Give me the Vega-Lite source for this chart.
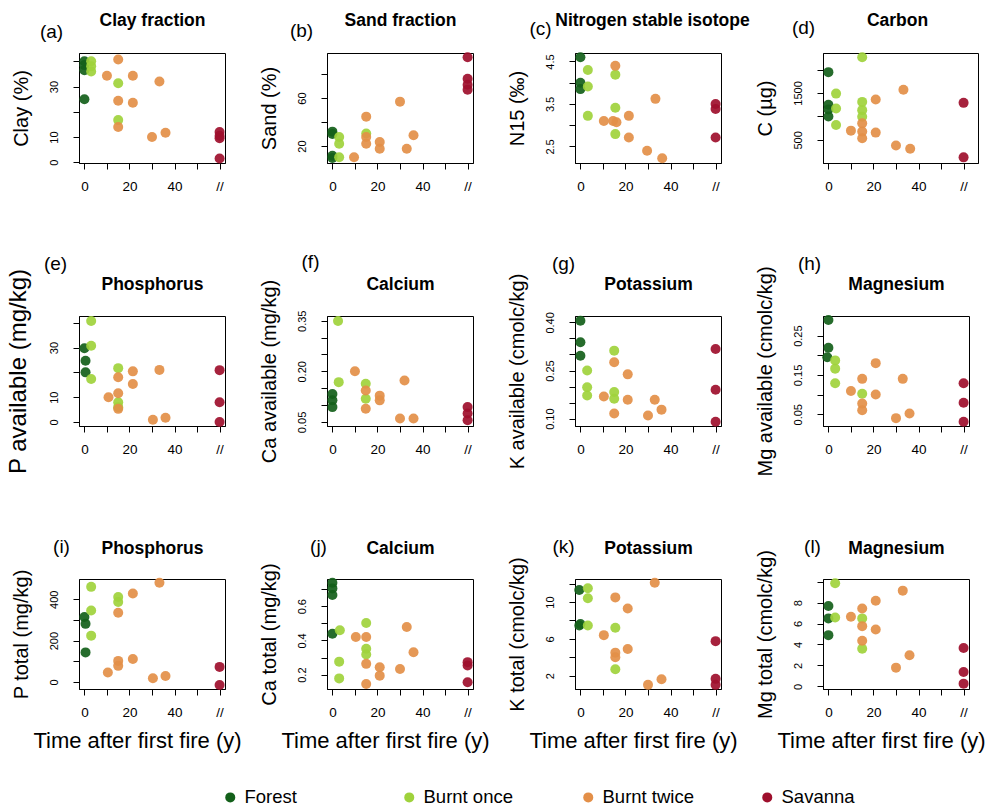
{
"$schema": "https://vega.github.io/schema/vega-lite/v6.json",
"padding": {"left": 5, "top": 10, "right": 5, "bottom": 5},
"background": "white",
"data": {"values": [
{"p":"a","g":"Forest","t":0,"v":40},{"p":"a","g":"Forest","t":0,"v":38.5},{"p":"a","g":"Forest","t":0,"v":36.5},{"p":"a","g":"Forest","t":0,"v":25},
{"p":"a","g":"Burnt once","t":3,"v":40},{"p":"a","g":"Burnt once","t":3,"v":38},{"p":"a","g":"Burnt once","t":3,"v":36},{"p":"a","g":"Burnt once","t":15,"v":31.3},{"p":"a","g":"Burnt once","t":15,"v":16.7},
{"p":"a","g":"Burnt twice","t":15,"v":40.7},{"p":"a","g":"Burnt twice","t":10,"v":34.3},{"p":"a","g":"Burnt twice","t":21.5,"v":34.3},{"p":"a","g":"Burnt twice","t":33.3,"v":32},{"p":"a","g":"Burnt twice","t":15,"v":24.4},{"p":"a","g":"Burnt twice","t":21.5,"v":23.6},{"p":"a","g":"Burnt twice","t":15,"v":14},{"p":"a","g":"Burnt twice","t":30,"v":10},{"p":"a","g":"Burnt twice","t":36,"v":11.7},
{"p":"a","g":"Savanna","t":60,"v":12},{"p":"a","g":"Savanna","t":60,"v":10.5},{"p":"a","g":"Savanna","t":60,"v":9.5},{"p":"a","g":"Savanna","t":60,"v":1.5},

{"p":"b","g":"Forest","t":0,"v":32},{"p":"b","g":"Forest","t":0,"v":30},{"p":"b","g":"Forest","t":0,"v":12},{"p":"b","g":"Forest","t":0,"v":10},
{"p":"b","g":"Burnt once","t":3,"v":27.6},{"p":"b","g":"Burnt once","t":3,"v":22},{"p":"b","g":"Burnt once","t":3,"v":10.7},{"p":"b","g":"Burnt once","t":15,"v":30.4},
{"p":"b","g":"Burnt twice","t":9.6,"v":10.7},{"p":"b","g":"Burnt twice","t":15,"v":44.5},{"p":"b","g":"Burnt twice","t":15,"v":27.6},{"p":"b","g":"Burnt twice","t":15,"v":22},{"p":"b","g":"Burnt twice","t":21,"v":23.4},{"p":"b","g":"Burnt twice","t":21,"v":17.7},{"p":"b","g":"Burnt twice","t":30,"v":57},{"p":"b","g":"Burnt twice","t":33,"v":17.7},{"p":"b","g":"Burnt twice","t":36,"v":29},
{"p":"b","g":"Savanna","t":60,"v":94},{"p":"b","g":"Savanna","t":60,"v":76},{"p":"b","g":"Savanna","t":60,"v":71},{"p":"b","g":"Savanna","t":60,"v":67},

{"p":"c","g":"Forest","t":0,"v":4.6},{"p":"c","g":"Forest","t":0,"v":4.0},{"p":"c","g":"Forest","t":0,"v":3.85},
{"p":"c","g":"Burnt once","t":3.3,"v":4.3},{"p":"c","g":"Burnt once","t":3.3,"v":3.91},{"p":"c","g":"Burnt once","t":3.3,"v":3.22},{"p":"c","g":"Burnt once","t":15.5,"v":4.19},{"p":"c","g":"Burnt once","t":15.5,"v":3.41},{"p":"c","g":"Burnt once","t":15.5,"v":2.79},
{"p":"c","g":"Burnt twice","t":15.5,"v":4.4},{"p":"c","g":"Burnt twice","t":10.4,"v":3.1},{"p":"c","g":"Burnt twice","t":14.5,"v":3.1},{"p":"c","g":"Burnt twice","t":16,"v":3.07},{"p":"c","g":"Burnt twice","t":21.5,"v":3.22},{"p":"c","g":"Burnt twice","t":21.5,"v":2.71},{"p":"c","g":"Burnt twice","t":29.6,"v":2.4},{"p":"c","g":"Burnt twice","t":33.3,"v":3.62},{"p":"c","g":"Burnt twice","t":36.3,"v":2.22},
{"p":"c","g":"Savanna","t":60,"v":3.5},{"p":"c","g":"Savanna","t":60,"v":3.38},{"p":"c","g":"Savanna","t":60,"v":2.71},

{"p":"d","g":"Forest","t":0,"v":1944},{"p":"d","g":"Forest","t":0,"v":1250},{"p":"d","g":"Forest","t":0,"v":1150},{"p":"d","g":"Forest","t":0,"v":1000},
{"p":"d","g":"Burnt once","t":3.4,"v":1486},{"p":"d","g":"Burnt once","t":3.4,"v":1169},{"p":"d","g":"Burnt once","t":3.4,"v":817},{"p":"d","g":"Burnt once","t":15,"v":2260},{"p":"d","g":"Burnt once","t":15,"v":1310},{"p":"d","g":"Burnt once","t":15,"v":1134},{"p":"d","g":"Burnt once","t":15,"v":993},
{"p":"d","g":"Burnt twice","t":10,"v":697},{"p":"d","g":"Burnt twice","t":15,"v":852},{"p":"d","g":"Burnt twice","t":15,"v":676},{"p":"d","g":"Burnt twice","t":15,"v":535},{"p":"d","g":"Burnt twice","t":21,"v":1359},{"p":"d","g":"Burnt twice","t":21,"v":655},{"p":"d","g":"Burnt twice","t":30,"v":380},{"p":"d","g":"Burnt twice","t":33.3,"v":1570},{"p":"d","g":"Burnt twice","t":36.3,"v":310},
{"p":"d","g":"Savanna","t":60,"v":1289},{"p":"d","g":"Savanna","t":60,"v":127},

{"p":"e","g":"Forest","t":0,"v":29.7},{"p":"e","g":"Forest","t":0.5,"v":24.7},{"p":"e","g":"Forest","t":0.5,"v":20},
{"p":"e","g":"Burnt once","t":3,"v":40.7},{"p":"e","g":"Burnt once","t":3,"v":30.7},{"p":"e","g":"Burnt once","t":3,"v":17.3},{"p":"e","g":"Burnt once","t":15,"v":21.7},{"p":"e","g":"Burnt once","t":15,"v":8},{"p":"e","g":"Burnt once","t":15,"v":6},
{"p":"e","g":"Burnt twice","t":10.7,"v":10},{"p":"e","g":"Burnt twice","t":15,"v":18},{"p":"e","g":"Burnt twice","t":15,"v":11.6},{"p":"e","g":"Burnt twice","t":15,"v":5.3},{"p":"e","g":"Burnt twice","t":21.5,"v":20.4},{"p":"e","g":"Burnt twice","t":21.5,"v":15.3},{"p":"e","g":"Burnt twice","t":33.3,"v":21},{"p":"e","g":"Burnt twice","t":30.4,"v":0.9},{"p":"e","g":"Burnt twice","t":36,"v":1.7},
{"p":"e","g":"Savanna","t":60,"v":20.9},{"p":"e","g":"Savanna","t":60,"v":8},{"p":"e","g":"Savanna","t":60,"v":0},

{"p":"f","g":"Forest","t":0,"v":0.133},{"p":"f","g":"Forest","t":0,"v":0.114},{"p":"f","g":"Forest","t":0,"v":0.094},
{"p":"f","g":"Burnt once","t":2.5,"v":0.349},{"p":"f","g":"Burnt once","t":2.8,"v":0.168},{"p":"f","g":"Burnt once","t":14.8,"v":0.163},{"p":"f","g":"Burnt once","t":14.8,"v":0.119},
{"p":"f","g":"Burnt twice","t":10,"v":0.2},{"p":"f","g":"Burnt twice","t":14.8,"v":0.143},{"p":"f","g":"Burnt twice","t":14.8,"v":0.089},{"p":"f","g":"Burnt twice","t":21,"v":0.128},{"p":"f","g":"Burnt twice","t":21,"v":0.114},{"p":"f","g":"Burnt twice","t":32,"v":0.173},{"p":"f","g":"Burnt twice","t":30,"v":0.06},{"p":"f","g":"Burnt twice","t":36,"v":0.06},
{"p":"f","g":"Savanna","t":60,"v":0.094},{"p":"f","g":"Savanna","t":60,"v":0.075},{"p":"f","g":"Savanna","t":60,"v":0.055},

{"p":"g","g":"Forest","t":0,"v":0.405},{"p":"g","g":"Forest","t":0,"v":0.338},{"p":"g","g":"Forest","t":0,"v":0.296},
{"p":"g","g":"Burnt once","t":3,"v":0.25},{"p":"g","g":"Burnt once","t":3,"v":0.198},{"p":"g","g":"Burnt once","t":3,"v":0.172},{"p":"g","g":"Burnt once","t":15,"v":0.312},{"p":"g","g":"Burnt once","t":15,"v":0.183},{"p":"g","g":"Burnt once","t":15,"v":0.162},
{"p":"g","g":"Burnt twice","t":10.4,"v":0.169},{"p":"g","g":"Burnt twice","t":15,"v":0.276},{"p":"g","g":"Burnt twice","t":15,"v":0.116},{"p":"g","g":"Burnt twice","t":21,"v":0.238},{"p":"g","g":"Burnt twice","t":21,"v":0.159},{"p":"g","g":"Burnt twice","t":30,"v":0.11},{"p":"g","g":"Burnt twice","t":33,"v":0.159},{"p":"g","g":"Burnt twice","t":36,"v":0.128},
{"p":"g","g":"Savanna","t":60,"v":0.317},{"p":"g","g":"Savanna","t":60,"v":0.19},{"p":"g","g":"Savanna","t":60,"v":0.09},

{"p":"h","g":"Forest","t":0,"v":0.29},{"p":"h","g":"Forest","t":0,"v":0.219},{"p":"h","g":"Forest","t":-0.5,"v":0.195},
{"p":"h","g":"Burnt once","t":3,"v":0.187},{"p":"h","g":"Burnt once","t":3,"v":0.166},{"p":"h","g":"Burnt once","t":3,"v":0.129},{"p":"h","g":"Burnt once","t":15,"v":0.102},
{"p":"h","g":"Burnt twice","t":10,"v":0.109},{"p":"h","g":"Burnt twice","t":15,"v":0.14},{"p":"h","g":"Burnt twice","t":15,"v":0.077},{"p":"h","g":"Burnt twice","t":15,"v":0.06},{"p":"h","g":"Burnt twice","t":21,"v":0.18},{"p":"h","g":"Burnt twice","t":21,"v":0.1},{"p":"h","g":"Burnt twice","t":30,"v":0.04},{"p":"h","g":"Burnt twice","t":33,"v":0.14},{"p":"h","g":"Burnt twice","t":36,"v":0.052},
{"p":"h","g":"Savanna","t":60,"v":0.129},{"p":"h","g":"Savanna","t":60,"v":0.079},{"p":"h","g":"Savanna","t":60,"v":0.031},

{"p":"i","g":"Forest","t":0,"v":314},{"p":"i","g":"Forest","t":0.5,"v":281},{"p":"i","g":"Forest","t":0.5,"v":143},
{"p":"i","g":"Burnt once","t":3,"v":460},{"p":"i","g":"Burnt once","t":3,"v":346},{"p":"i","g":"Burnt once","t":3,"v":224},{"p":"i","g":"Burnt once","t":15,"v":411},{"p":"i","g":"Burnt once","t":15,"v":387},
{"p":"i","g":"Burnt twice","t":15,"v":335},{"p":"i","g":"Burnt twice","t":10.4,"v":46},{"p":"i","g":"Burnt twice","t":15,"v":102},{"p":"i","g":"Burnt twice","t":15,"v":78},{"p":"i","g":"Burnt twice","t":21.5,"v":111},{"p":"i","g":"Burnt twice","t":21.5,"v":428},{"p":"i","g":"Burnt twice","t":33.3,"v":480},{"p":"i","g":"Burnt twice","t":30.4,"v":18},{"p":"i","g":"Burnt twice","t":36,"v":29},
{"p":"i","g":"Savanna","t":60,"v":73},{"p":"i","g":"Savanna","t":60,"v":-15},

{"p":"j","g":"Forest","t":0,"v":0.737},{"p":"j","g":"Forest","t":0,"v":0.704},{"p":"j","g":"Forest","t":0,"v":0.665},{"p":"j","g":"Forest","t":0,"v":0.439},
{"p":"j","g":"Burnt once","t":3.3,"v":0.459},{"p":"j","g":"Burnt once","t":3,"v":0.276},{"p":"j","g":"Burnt once","t":3,"v":0.178},{"p":"j","g":"Burnt once","t":15,"v":0.502},{"p":"j","g":"Burnt once","t":15,"v":0.351},{"p":"j","g":"Burnt once","t":15,"v":0.318},
{"p":"j","g":"Burnt twice","t":10.4,"v":0.42},{"p":"j","g":"Burnt twice","t":15,"v":0.42},{"p":"j","g":"Burnt twice","t":15,"v":0.263},{"p":"j","g":"Burnt twice","t":15,"v":0.145},{"p":"j","g":"Burnt twice","t":21,"v":0.243},{"p":"j","g":"Burnt twice","t":21,"v":0.194},{"p":"j","g":"Burnt twice","t":30,"v":0.233},{"p":"j","g":"Burnt twice","t":33,"v":0.478},{"p":"j","g":"Burnt twice","t":36,"v":0.331},
{"p":"j","g":"Savanna","t":60,"v":0.273},{"p":"j","g":"Savanna","t":60,"v":0.253},{"p":"j","g":"Savanna","t":60,"v":0.155},

{"p":"k","g":"Forest","t":-0.5,"v":11.3},{"p":"k","g":"Forest","t":0,"v":7.6},{"p":"k","g":"Forest","t":-0.5,"v":7.45},
{"p":"k","g":"Burnt once","t":3.3,"v":11.5},{"p":"k","g":"Burnt once","t":3.3,"v":10.4},{"p":"k","g":"Burnt once","t":3.3,"v":7.45},{"p":"k","g":"Burnt once","t":15.5,"v":7.2},{"p":"k","g":"Burnt once","t":15.5,"v":2.7},
{"p":"k","g":"Burnt twice","t":10.4,"v":6.4},{"p":"k","g":"Burnt twice","t":15.5,"v":10.5},{"p":"k","g":"Burnt twice","t":15.5,"v":4.5},{"p":"k","g":"Burnt twice","t":15.5,"v":4.0},{"p":"k","g":"Burnt twice","t":21,"v":9.3},{"p":"k","g":"Burnt twice","t":21,"v":4.9},{"p":"k","g":"Burnt twice","t":30,"v":1.0},{"p":"k","g":"Burnt twice","t":33,"v":12.1},{"p":"k","g":"Burnt twice","t":36,"v":1.6},
{"p":"k","g":"Savanna","t":60,"v":5.75},{"p":"k","g":"Savanna","t":60,"v":1.65},{"p":"k","g":"Savanna","t":60,"v":1.0},

{"p":"l","g":"Forest","t":0,"v":7.67},{"p":"l","g":"Forest","t":0,"v":6.49},{"p":"l","g":"Forest","t":0,"v":4.89},
{"p":"l","g":"Burnt once","t":3,"v":9.84},{"p":"l","g":"Burnt once","t":3,"v":6.58},{"p":"l","g":"Burnt once","t":15,"v":6.49},{"p":"l","g":"Burnt once","t":15,"v":3.6},
{"p":"l","g":"Burnt twice","t":10,"v":6.64},{"p":"l","g":"Burnt twice","t":15,"v":7.44},{"p":"l","g":"Burnt twice","t":15,"v":5.75},{"p":"l","g":"Burnt twice","t":15,"v":4.35},{"p":"l","g":"Burnt twice","t":21,"v":8.18},{"p":"l","g":"Burnt twice","t":21,"v":5.43},{"p":"l","g":"Burnt twice","t":30,"v":1.79},{"p":"l","g":"Burnt twice","t":33,"v":9.14},{"p":"l","g":"Burnt twice","t":36,"v":2.97},
{"p":"l","g":"Savanna","t":60,"v":3.67},{"p":"l","g":"Savanna","t":60,"v":1.37},{"p":"l","g":"Savanna","t":60,"v":0.26}
]},
"columns": 4,
"bounds": "flush",
"spacing": {"row": 153, "column": 102},
"concat": [
{"width":146,"height":110,"transform":[{"filter":"datum.p==='a'"}],"resolve":{"axis":{"x":"independent","y":"independent"}},"layer":[
 {"mark":{"type":"circle","size":100,"opacity":0.92},"encoding":{
  "x":{"field":"t","type":"quantitative","scale":{"domain":[-2.4,62.4],"nice":false,"zero":false},"axis":{"values":[0,10,20,30,40,50,60],"format":"d","labelExpr":"datum.value==60?'//':(datum.value%20==0?datum.label:'')","title":null}},
  "y":{"field":"v","type":"quantitative","scale":{"domain":[-0.3,43.3],"nice":false,"zero":false},"axis":{"title":"Clay (%)","labelBaseline":"bottom","labelAlign":"center","labelAngle":270,"values":[0,10,20,30,40],"format":"d","labelExpr":"indexof([0,10,30],datum.value)>=0?datum.label:''"}},
  "color":{"field":"g","type":"nominal","title":null,"scale":{"domain":["Forest","Burnt once","Burnt twice","Savanna"],"range":["#13601a","#9fd23c","#e38f48","#9e0f2c"]}}}},
 {"mark":{"type":"circle","opacity":0},"encoding":{"y":{"field":"v","type":"quantitative","axis":null},"x":{"field":"t","type":"quantitative","axis":{"orient":"top","title":"(a)","titleX":-28,"titleY":-16,"titleFontSize":19,"titleFontWeight":"normal"}}}},
 {"mark":{"type":"circle","opacity":0},"encoding":{"y":{"field":"v","type":"quantitative","axis":null},"x":{"field":"t","type":"quantitative","axis":{"orient":"top","title":"Clay fraction","titleX":73,"titleY":-28,"titleFontSize":17.5,"titleFontWeight":"bold"}}}}
]},
{"width":146,"height":110,"transform":[{"filter":"datum.p==='b'"}],"resolve":{"axis":{"x":"independent","y":"independent"}},"layer":[
 {"mark":{"type":"circle","size":100,"opacity":0.92},"encoding":{
  "x":{"field":"t","type":"quantitative","scale":{"domain":[-2.4,62.4],"nice":false,"zero":false},"axis":{"values":[0,10,20,30,40,50,60],"format":"d","labelExpr":"datum.value==60?'//':(datum.value%20==0?datum.label:'')","title":null}},
  "y":{"field":"v","type":"quantitative","scale":{"domain":[5.9,97.5],"nice":false,"zero":false},"axis":{"title":"Sand (%)","labelBaseline":"bottom","labelAlign":"center","labelAngle":270,"values":[20,40,60,80],"format":"d","labelExpr":"indexof([20,60],datum.value)>=0?datum.label:''"}},
  "color":{"field":"g","type":"nominal","title":null,"scale":{"domain":["Forest","Burnt once","Burnt twice","Savanna"],"range":["#13601a","#9fd23c","#e38f48","#9e0f2c"]}}}},
 {"mark":{"type":"circle","opacity":0},"encoding":{"y":{"field":"v","type":"quantitative","axis":null},"x":{"field":"t","type":"quantitative","axis":{"orient":"top","title":"(b)","titleX":-26,"titleY":-17,"titleFontSize":19,"titleFontWeight":"normal"}}}},
 {"mark":{"type":"circle","opacity":0},"encoding":{"y":{"field":"v","type":"quantitative","axis":null},"x":{"field":"t","type":"quantitative","axis":{"orient":"top","title":"Sand fraction","titleX":73,"titleY":-28,"titleFontSize":17.5,"titleFontWeight":"bold"}}}}
]},
{"width":146,"height":110,"transform":[{"filter":"datum.p==='c'"}],"resolve":{"axis":{"x":"independent","y":"independent"}},"layer":[
 {"mark":{"type":"circle","size":100,"opacity":0.92},"encoding":{
  "x":{"field":"t","type":"quantitative","scale":{"domain":[-2.4,62.4],"nice":false,"zero":false},"axis":{"values":[0,10,20,30,40,50,60],"format":"d","labelExpr":"datum.value==60?'//':(datum.value%20==0?datum.label:'')","title":null}},
  "y":{"field":"v","type":"quantitative","scale":{"domain":[2.11,4.7],"nice":false,"zero":false},"axis":{"title":"N15 (‰)","labelBaseline":"bottom","labelAlign":"center","labelAngle":270,"values":[2.5,3,3.5,4,4.5],"format":".1f","labelExpr":"indexof([2.5,3.5,4.5],datum.value)>=0?datum.label:''"}},
  "color":{"field":"g","type":"nominal","title":null,"scale":{"domain":["Forest","Burnt once","Burnt twice","Savanna"],"range":["#13601a","#9fd23c","#e38f48","#9e0f2c"]}}}},
 {"mark":{"type":"circle","opacity":0},"encoding":{"y":{"field":"v","type":"quantitative","axis":null},"x":{"field":"t","type":"quantitative","axis":{"orient":"top","title":"(c)","titleX":-35,"titleY":-19,"titleFontSize":19,"titleFontWeight":"normal"}}}},
 {"mark":{"type":"circle","opacity":0},"encoding":{"y":{"field":"v","type":"quantitative","axis":null},"x":{"field":"t","type":"quantitative","axis":{"orient":"top","title":"Nitrogen stable isotope","titleX":77,"titleY":-28,"titleFontSize":17.5,"titleFontWeight":"bold"}}}}
]},
{"width":155,"height":110,"transform":[{"filter":"datum.p==='d'"}],"resolve":{"axis":{"x":"independent","y":"independent"}},"layer":[
 {"mark":{"type":"circle","size":100,"opacity":0.92},"encoding":{
  "x":{"field":"t","type":"quantitative","scale":{"domain":[-2.4,66.4],"nice":false,"zero":false},"axis":{"values":[0,10,20,30,40,50,60],"format":"d","labelExpr":"datum.value==60?'//':(datum.value%20==0?datum.label:'')","title":null}},
  "y":{"field":"v","type":"quantitative","scale":{"domain":[7,2352],"nice":false,"zero":false},"axis":{"title":"C (µg)","labelBaseline":"bottom","labelAlign":"center","labelAngle":270,"values":[500,1000,1500,2000],"format":"d","labelExpr":"indexof([500,1500],datum.value)>=0?datum.label:''"}},
  "color":{"field":"g","type":"nominal","title":null,"scale":{"domain":["Forest","Burnt once","Burnt twice","Savanna"],"range":["#13601a","#9fd23c","#e38f48","#9e0f2c"]}}}},
 {"mark":{"type":"circle","opacity":0},"encoding":{"y":{"field":"v","type":"quantitative","axis":null},"x":{"field":"t","type":"quantitative","axis":{"orient":"top","title":"(d)","titleX":-20,"titleY":-20,"titleFontSize":19,"titleFontWeight":"normal"}}}},
 {"mark":{"type":"circle","opacity":0},"encoding":{"y":{"field":"v","type":"quantitative","axis":null},"x":{"field":"t","type":"quantitative","axis":{"orient":"top","title":"Carbon","titleX":74,"titleY":-28,"titleFontSize":17.5,"titleFontWeight":"bold"}}}}
]},
{"width":146,"height":110,"transform":[{"filter":"datum.p==='e'"}],"resolve":{"axis":{"x":"independent","y":"independent"}},"layer":[
 {"mark":{"type":"circle","size":100,"opacity":0.92},"encoding":{
  "x":{"field":"t","type":"quantitative","scale":{"domain":[-2.4,62.4],"nice":false,"zero":false},"axis":{"values":[0,10,20,30,40,50,60],"format":"d","labelExpr":"datum.value==60?'//':(datum.value%20==0?datum.label:'')","title":null}},
  "y":{"field":"v","type":"quantitative","scale":{"domain":[-1.6,42.7],"nice":false,"zero":false},"axis":{"title":"P available (mg/kg)","titleFontSize":24,"titleX":-61,"labelBaseline":"bottom","labelAlign":"center","labelAngle":270,"values":[0,10,20,30,40],"format":"d","labelExpr":"indexof([0,10,30],datum.value)>=0?datum.label:''"}},
  "color":{"field":"g","type":"nominal","title":null,"scale":{"domain":["Forest","Burnt once","Burnt twice","Savanna"],"range":["#13601a","#9fd23c","#e38f48","#9e0f2c"]}}}},
 {"mark":{"type":"circle","opacity":0},"encoding":{"y":{"field":"v","type":"quantitative","axis":null},"x":{"field":"t","type":"quantitative","axis":{"orient":"top","title":"(e)","titleX":-24,"titleY":-47,"titleFontSize":19,"titleFontWeight":"normal"}}}},
 {"mark":{"type":"circle","opacity":0},"encoding":{"y":{"field":"v","type":"quantitative","axis":null},"x":{"field":"t","type":"quantitative","axis":{"orient":"top","title":"Phosphorus","titleX":73,"titleY":-27,"titleFontSize":17.5,"titleFontWeight":"bold"}}}}
]},
{"width":146,"height":110,"transform":[{"filter":"datum.p==='f'"}],"resolve":{"axis":{"x":"independent","y":"independent"}},"layer":[
 {"mark":{"type":"circle","size":100,"opacity":0.92},"encoding":{
  "x":{"field":"t","type":"quantitative","scale":{"domain":[-2.4,62.4],"nice":false,"zero":false},"axis":{"values":[0,10,20,30,40,50,60],"format":"d","labelExpr":"datum.value==60?'//':(datum.value%20==0?datum.label:'')","title":null}},
  "y":{"field":"v","type":"quantitative","scale":{"domain":[0.038,0.364],"nice":false,"zero":false},"axis":{"title":"Ca available (mg/kg)","labelBaseline":"bottom","labelAlign":"center","labelAngle":270,"values":[0.05,0.1,0.15,0.2,0.25,0.3,0.35],"format":".2f","labelExpr":"indexof([0.05,0.2,0.35],datum.value)>=0?datum.label:''"}},
  "color":{"field":"g","type":"nominal","title":null,"scale":{"domain":["Forest","Burnt once","Burnt twice","Savanna"],"range":["#13601a","#9fd23c","#e38f48","#9e0f2c"]}}}},
 {"mark":{"type":"circle","opacity":0},"encoding":{"y":{"field":"v","type":"quantitative","axis":null},"x":{"field":"t","type":"quantitative","axis":{"orient":"top","title":"(f)","titleX":-17,"titleY":-49,"titleFontSize":19,"titleFontWeight":"normal"}}}},
 {"mark":{"type":"circle","opacity":0},"encoding":{"y":{"field":"v","type":"quantitative","axis":null},"x":{"field":"t","type":"quantitative","axis":{"orient":"top","title":"Calcium","titleX":73,"titleY":-27,"titleFontSize":17.5,"titleFontWeight":"bold"}}}}
]},
{"width":146,"height":110,"transform":[{"filter":"datum.p==='g'"}],"resolve":{"axis":{"x":"independent","y":"independent"}},"layer":[
 {"mark":{"type":"circle","size":100,"opacity":0.92},"encoding":{
  "x":{"field":"t","type":"quantitative","scale":{"domain":[-2.4,62.4],"nice":false,"zero":false},"axis":{"values":[0,10,20,30,40,50,60],"format":"d","labelExpr":"datum.value==60?'//':(datum.value%20==0?datum.label:'')","title":null}},
  "y":{"field":"v","type":"quantitative","scale":{"domain":[0.077,0.42],"nice":false,"zero":false},"axis":{"title":"K available (cmolc/kg)","labelBaseline":"bottom","labelAlign":"center","labelAngle":270,"values":[0.1,0.15,0.2,0.25,0.3,0.35,0.4],"format":".2f","labelExpr":"indexof([0.1,0.25,0.4],datum.value)>=0?datum.label:''"}},
  "color":{"field":"g","type":"nominal","title":null,"scale":{"domain":["Forest","Burnt once","Burnt twice","Savanna"],"range":["#13601a","#9fd23c","#e38f48","#9e0f2c"]}}}},
 {"mark":{"type":"circle","opacity":0},"encoding":{"y":{"field":"v","type":"quantitative","axis":null},"x":{"field":"t","type":"quantitative","axis":{"orient":"top","title":"(g)","titleX":-12,"titleY":-47,"titleFontSize":19,"titleFontWeight":"normal"}}}},
 {"mark":{"type":"circle","opacity":0},"encoding":{"y":{"field":"v","type":"quantitative","axis":null},"x":{"field":"t","type":"quantitative","axis":{"orient":"top","title":"Potassium","titleX":73,"titleY":-27,"titleFontSize":17.5,"titleFontWeight":"bold"}}}}
]},
{"width":146,"height":110,"transform":[{"filter":"datum.p==='h'"}],"resolve":{"axis":{"x":"independent","y":"independent"}},"layer":[
 {"mark":{"type":"circle","size":100,"opacity":0.92},"encoding":{
  "x":{"field":"t","type":"quantitative","scale":{"domain":[-2.4,62.4],"nice":false,"zero":false},"axis":{"values":[0,10,20,30,40,50,60],"format":"d","labelExpr":"datum.value==60?'//':(datum.value%20==0?datum.label:'')","title":null}},
  "y":{"field":"v","type":"quantitative","scale":{"domain":[0.02,0.3],"nice":false,"zero":false},"axis":{"title":"Mg available (cmolc/kg)","labelBaseline":"bottom","labelAlign":"center","labelAngle":270,"values":[0.05,0.1,0.15,0.2,0.25],"format":".2f","labelExpr":"indexof([0.05,0.15,0.25],datum.value)>=0?datum.label:''"}},
  "color":{"field":"g","type":"nominal","title":null,"scale":{"domain":["Forest","Burnt once","Burnt twice","Savanna"],"range":["#13601a","#9fd23c","#e38f48","#9e0f2c"]}}}},
 {"mark":{"type":"circle","opacity":0},"encoding":{"y":{"field":"v","type":"quantitative","axis":null},"x":{"field":"t","type":"quantitative","axis":{"orient":"top","title":"(h)","titleX":-14,"titleY":-47,"titleFontSize":19,"titleFontWeight":"normal"}}}},
 {"mark":{"type":"circle","opacity":0},"encoding":{"y":{"field":"v","type":"quantitative","axis":null},"x":{"field":"t","type":"quantitative","axis":{"orient":"top","title":"Magnesium","titleX":73,"titleY":-27,"titleFontSize":17.5,"titleFontWeight":"bold"}}}}
]},
{"width":146,"height":110,"transform":[{"filter":"datum.p==='i'"}],"resolve":{"axis":{"x":"independent","y":"independent"}},"layer":[
 {"mark":{"type":"circle","size":100,"opacity":0.92},"encoding":{
  "x":{"field":"t","type":"quantitative","scale":{"domain":[-2.4,62.4],"nice":false,"zero":false},"axis":{"values":[0,10,20,30,40,50,60],"format":"d","labelExpr":"datum.value==60?'//':(datum.value%20==0?datum.label:'')","title":"Time after first fire (y)"}},
  "y":{"field":"v","type":"quantitative","scale":{"domain":[-34,498],"nice":false,"zero":false},"axis":{"title":"P total (mg/kg)","labelBaseline":"bottom","labelAlign":"center","labelAngle":270,"values":[0,100,200,300,400],"format":"d","labelExpr":"indexof([0,200,400],datum.value)>=0?datum.label:''"}},
  "color":{"field":"g","type":"nominal","title":null,"scale":{"domain":["Forest","Burnt once","Burnt twice","Savanna"],"range":["#13601a","#9fd23c","#e38f48","#9e0f2c"]}}}},
 {"mark":{"type":"circle","opacity":0},"encoding":{"y":{"field":"v","type":"quantitative","axis":null},"x":{"field":"t","type":"quantitative","axis":{"orient":"top","title":"(i)","titleX":-18,"titleY":-27,"titleFontSize":19,"titleFontWeight":"normal"}}}},
 {"mark":{"type":"circle","opacity":0},"encoding":{"y":{"field":"v","type":"quantitative","axis":null},"x":{"field":"t","type":"quantitative","axis":{"orient":"top","title":"Phosphorus","titleX":73,"titleY":-26,"titleFontSize":17.5,"titleFontWeight":"bold"}}}}
]},
{"width":146,"height":110,"transform":[{"filter":"datum.p==='j'"}],"resolve":{"axis":{"x":"independent","y":"independent"}},"layer":[
 {"mark":{"type":"circle","size":100,"opacity":0.92},"encoding":{
  "x":{"field":"t","type":"quantitative","scale":{"domain":[-2.4,62.4],"nice":false,"zero":false},"axis":{"values":[0,10,20,30,40,50,60],"format":"d","labelExpr":"datum.value==60?'//':(datum.value%20==0?datum.label:'')","title":"Time after first fire (y)"}},
  "y":{"field":"v","type":"quantitative","scale":{"domain":[0.116,0.759],"nice":false,"zero":false},"axis":{"title":"Ca total (mg/kg)","labelBaseline":"bottom","labelAlign":"center","labelAngle":270,"values":[0.2,0.3,0.4,0.5,0.6,0.7],"format":".1f","labelExpr":"indexof([0.2,0.4,0.6],datum.value)>=0?datum.label:''"}},
  "color":{"field":"g","type":"nominal","title":null,"scale":{"domain":["Forest","Burnt once","Burnt twice","Savanna"],"range":["#13601a","#9fd23c","#e38f48","#9e0f2c"]}}}},
 {"mark":{"type":"circle","opacity":0},"encoding":{"y":{"field":"v","type":"quantitative","axis":null},"x":{"field":"t","type":"quantitative","axis":{"orient":"top","title":"(j)","titleX":-9,"titleY":-27,"titleFontSize":19,"titleFontWeight":"normal"}}}},
 {"mark":{"type":"circle","opacity":0},"encoding":{"y":{"field":"v","type":"quantitative","axis":null},"x":{"field":"t","type":"quantitative","axis":{"orient":"top","title":"Calcium","titleX":73,"titleY":-26,"titleFontSize":17.5,"titleFontWeight":"bold"}}}}
]},
{"width":146,"height":110,"transform":[{"filter":"datum.p==='k'"}],"resolve":{"axis":{"x":"independent","y":"independent"}},"layer":[
 {"mark":{"type":"circle","size":100,"opacity":0.92},"encoding":{
  "x":{"field":"t","type":"quantitative","scale":{"domain":[-2.4,62.4],"nice":false,"zero":false},"axis":{"values":[0,10,20,30,40,50,60],"format":"d","labelExpr":"datum.value==60?'//':(datum.value%20==0?datum.label:'')","title":"Time after first fire (y)"}},
  "y":{"field":"v","type":"quantitative","scale":{"domain":[0.55,12.5],"nice":false,"zero":false},"axis":{"title":"K total (cmolc/kg)","labelBaseline":"bottom","labelAlign":"center","labelAngle":270,"values":[2,4,6,8,10,12],"format":"d","labelExpr":"indexof([2,6,10],datum.value)>=0?datum.label:''"}},
  "color":{"field":"g","type":"nominal","title":null,"scale":{"domain":["Forest","Burnt once","Burnt twice","Savanna"],"range":["#13601a","#9fd23c","#e38f48","#9e0f2c"]}}}},
 {"mark":{"type":"circle","opacity":0},"encoding":{"y":{"field":"v","type":"quantitative","axis":null},"x":{"field":"t","type":"quantitative","axis":{"orient":"top","title":"(k)","titleX":-12,"titleY":-27,"titleFontSize":19,"titleFontWeight":"normal"}}}},
 {"mark":{"type":"circle","opacity":0},"encoding":{"y":{"field":"v","type":"quantitative","axis":null},"x":{"field":"t","type":"quantitative","axis":{"orient":"top","title":"Potassium","titleX":73,"titleY":-26,"titleFontSize":17.5,"titleFontWeight":"bold"}}}}
]},
{"width":146,"height":110,"transform":[{"filter":"datum.p==='l'"}],"resolve":{"axis":{"x":"independent","y":"independent"}},"layer":[
 {"mark":{"type":"circle","size":100,"opacity":0.92},"encoding":{
  "x":{"field":"t","type":"quantitative","scale":{"domain":[-2.4,62.4],"nice":false,"zero":false},"axis":{"values":[0,10,20,30,40,50,60],"format":"d","labelExpr":"datum.value==60?'//':(datum.value%20==0?datum.label:'')","title":"Time after first fire (y)"}},
  "y":{"field":"v","type":"quantitative","scale":{"domain":[-0.25,10.25],"nice":false,"zero":false},"axis":{"title":"Mg total (cmolc/kg)","labelBaseline":"bottom","labelAlign":"center","labelAngle":270,"values":[0,2,4,6,8,10],"format":"d","labelExpr":"indexof([0,2,4,6,8],datum.value)>=0?datum.label:''"}},
  "color":{"field":"g","type":"nominal","title":null,"scale":{"domain":["Forest","Burnt once","Burnt twice","Savanna"],"range":["#13601a","#9fd23c","#e38f48","#9e0f2c"]}}}},
 {"mark":{"type":"circle","opacity":0},"encoding":{"y":{"field":"v","type":"quantitative","axis":null},"x":{"field":"t","type":"quantitative","axis":{"orient":"top","title":"(l)","titleX":-11,"titleY":-27,"titleFontSize":19,"titleFontWeight":"normal"}}}},
 {"mark":{"type":"circle","opacity":0},"encoding":{"y":{"field":"v","type":"quantitative","axis":null},"x":{"field":"t","type":"quantitative","axis":{"orient":"top","title":"Magnesium","titleX":73,"titleY":-26,"titleFontSize":17.5,"titleFontWeight":"bold"}}}}
]}
],
"resolve": {"scale": {"x": "independent", "y": "independent", "color": "shared"}},
"config": {
 "view": {"stroke": "black", "strokeWidth": 1},
 "font": "Liberation Sans",
 "axis": {"grid": false, "domainColor": "black", "tickColor": "black", "labelColor": "black", "titleColor": "black", "labelFont": "Liberation Sans", "titleFont": "Liberation Sans", "tickSize": 6, "labelOverlap": false, "labelFlush": false, "titleFontWeight": "normal"},
 "axisLeft": {"labelPadding": 14, "labelFontSize": 11, "titleFontSize": 20, "titleX": -58, "titleBaseline": "middle", "titleAngle": 270},
 "axisBottom": {"labelAngle": 0, "labelFontSize": 13.5, "labelPadding": 10, "titleFontSize": 22, "titlePadding": 12, "titleX": 58},
 "axisTop": {"labels": false, "ticks": false, "domain": false, "titleAngle": 0, "titleAlign": "center", "titleBaseline": "alphabetic", "titleColor": "black"},
 "legend": {"orient": "none", "legendX": 142, "legendY": 735, "direction": "horizontal", "columns": 4, "gridAlign": "all", "labelFontSize": 18.5, "labelFont": "Liberation Sans", "labelColor": "black", "symbolType": "circle", "symbolSize": 100, "symbolStrokeWidth": 0, "symbolOpacity": 1, "columnPadding": 63, "labelOffset": 5}
}
}
